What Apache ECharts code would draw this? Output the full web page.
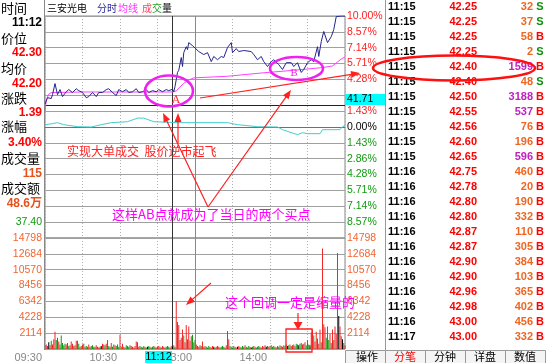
<!DOCTYPE html>
<html><head><meta charset="utf-8">
<script src="https://cdn.jsdelivr.net/npm/echarts/dist/echarts.min.js"></script>
<style>html,body{margin:0;padding:0;background:#fff}#c{width:549px;height:363px}</style>
</head><body><div id="c"></div>
<script>
const PREV = 40.91;
const CROSS_T = 102, CROSS_P = 41.71;

const priceT = [0,2,5,6,8,10,12,14,17,19,22,25,27,30,33,35,38,41,43,46,49,51,54,57,59,62,65,67,70,73,75,78,81,83,86,89,91,94,97,99,102,103,104,105,106,107,109,110,111,113,114,115,118,119,123,127,130,133,135,138,141,143,146,149,150,153,155,159,165,167,170,173,175,178,181,183,187,190,193,197,199,202,205,207,210,213,215,218,219,221,223,226,229,231,233,237,240];
const priceV = [41.75,41.99,41.96,42.10,42.51,42.10,42.29,42.03,42.21,42.29,42.18,42.32,42.25,42.18,41.99,42.03,42.18,42.03,42.18,42.18,42.29,42.32,42.18,42.07,42.29,42.21,42.29,42.18,42.21,42.32,42.18,42.21,42.29,42.18,42.25,42.21,42.29,42.21,42.29,42.25,42.30,42.21,42.40,42.66,42.92,43.00,43.47,43.14,43.65,43.87,43.76,44.02,43.91,43.87,43.69,43.58,43.65,43.32,43.51,43.39,43.51,43.47,43.84,44.02,43.65,43.80,43.69,43.73,43.69,43.58,43.39,43.51,43.32,43.14,43.32,43.39,43.21,43.03,43.28,43.28,43.14,43.28,42.92,43.03,43.28,43.39,43.32,43.87,43.51,44.06,44.43,44.02,44.24,44.50,44.98,45.00,45.00];

const avgT = [0,1,3,5,30,60,90,102,105,108,111,115,119,146,173,199,222,230,236,240];
const avgV = [41.50,41.90,42.12,42.18,42.20,42.20,42.20,42.20,42.24,42.38,42.52,42.64,42.72,42.78,42.90,43.00,43.10,43.16,43.38,43.50];

const cyanT = [0,6,10,15,26,37,45,53,66,74,79,87,106,120,146,154,170,186,190,202,206,210,220,222,236,238,240];
const cyanV = [0.21,0.30,0.39,0.21,0.03,0.00,0.21,0.39,0.48,0.80,0.80,0.48,0.39,0.39,0.39,0.21,0.03,0.00,-0.24,-0.69,-0.51,-0.60,-0.60,-0.24,-0.24,0.03,0.12];

const vols = [500,600,400,900,500,1100,600,1300,2300,1200,
1500,1000,600,1800,800,500,700,600,800,400,
500,1000,700,400,500,1100,1100,700,300,400,
600,700,300,400,300,600,300,400,500,300,
300,500,300,200,300,400,700,600,500,700,
1200,400,300,800,300,600,500,400,600,300,
1900,300,700,300,200,500,400,300,500,400,
300,200,400,1000,900,300,400,300,200,400,
300,200,300,400,300,200,300,400,300,200,
300,400,300,200,400,300,200,300,400,300,
200,400,300,500,300,6369,3600,3200,1200,1500,
2600,1800,900,3200,1300,3000,1100,1700,1900,900,
1200,600,400,300,500,400,1000,300,400,300,
200,400,300,200,400,300,200,300,400,300,
200,300,400,300,200,500,2400,1300,400,300,
200,400,300,200,300,400,300,200,400,300,
500,300,200,400,300,200,300,400,300,200,
300,400,300,200,400,300,500,300,400,300,
400,500,300,400,300,200,400,300,500,400,
300,500,400,600,400,500,600,400,500,600,
400,700,600,500,700,800,600,700,900,500,
1200,600,500,2200,2600,1800,1000,2300,1400,700,
2600,900,13400,3300,2900,1500,3000,1200,2000,800,
2600,1200,3000,2000,12800,4400,3000,1700,1300,800,
500];
const volDir = "rrgkrgrrrg"+"grgggrgrrg"+"rrrgrrrgrg"+"rgrgrrgrgr"+"grgrgkrrgr"+"rgrrgrrgrg"+"rgrgrgrgrg"+"rgrrgrgrgg"+"rgkgrggrgr"+"grgrrgrgrg"+"rrkrgrrrrr"+"rgrrgrrrgr"+"grgrgrrgrg"+"rgrgrkgrgr"+"grgrgrrrgr"+"grgrkrgrgr"+"rgrgrkgrrg"+"ggrgrgrkgr"+"grgrgrrgrg"+"rrgrkgrgrg"+"rggkggrgrg"+"rgkrrgrrgr"+"rgrrrgrgrg"+"rgrrrkrrkg"+"r";

const pctLabels = ['10.00%','8.57%','7.14%','5.71%','4.28%','','1.43%','0.00%','1.43%','2.86%','4.28%','5.71%','7.14%','8.57%',''];
const leftPriceLabels = {'-6':'37.40'};
const volLabels = ['','2114','4228','6342','8456','10570','12684','14798'];
const timeLabels = {0:'09:30',60:'10:30',120:'13:00',180:'14:00'};

const tTime  = ['11:15','11:15','11:15','11:15','11:15','11:15','11:15','11:15','11:15','11:15','11:15','11:16','11:16','11:16','11:16','11:16','11:16','11:16','11:16','11:16','11:16','11:16','11:17'];
const tPrice = ['42.25','42.25','42.25','42.25','42.40','42.40','42.50','42.55','42.56','42.60','42.65','42.75','42.78','42.80','42.80','42.87','42.87','42.90','42.90','42.96','42.98','43.00','43.00'];
const tVol   = [32,37,58,2,1599,48,3188,537,76,196,596,460,20,190,332,110,305,384,103,365,402,456,332];
const tSide  = ['S','S','B','S','B','S','B','B','B','B','B','B','B','B','B','B','B','B','B','B','B','B','B'];

const infoLabels = [['时间','11:12','#000'],['价位','42.30','#ff0000'],['均价','42.20','#ff0000'],['涨跌','1.39','#ff0000'],['涨幅','3.40%','#ff0000'],['成交量','115','#e8501c'],['成交额','48.6万','#e8501c']];

const toStep = p => (p / PREV - 1) * 70;
const FONT = "'Liberation Sans', 'Noto Sans CJK SC', sans-serif";
const CJK = "'Noto Sans CJK SC', sans-serif";

const G = [];
function txt(x, y, s, color, font, align, z) {
  G.push({type:'text', x:x, y:y, z: z||100, style:{text:s, fill:color, font:font, align:align||'left', textAlign:align||'left', verticalAlign:'middle', textVerticalAlign:'middle'}});
}
function line(x1,y1,x2,y2,color,w,z){ G.push({type:'line', z:z||100, shape:{x1,y1,x2,y2}, style:{stroke:color, lineWidth:w||1}}); }
function arrow(x1,y1,x2,y2,color,L,W){
  L=L||9; W=W||3.5;
  const dx=x2-x1, dy=y2-y1, len=Math.hypot(dx,dy), ux=dx/len, uy=dy/len;
  const bx=x2-ux*L, by=y2-uy*L, nx=-uy, ny=ux;
  line(x1,y1,bx+ux*2,by+uy*2,color,1.2,110);
  G.push({type:'polygon', z:110, shape:{points:[[x2,y2],[bx+nx*W,by+ny*W],[bx-nx*W,by-ny*W]]}, style:{fill:color}});
}
function ell(cx,cy,rx,ry,color){ G.push({type:'ellipse', z:110, shape:{cx,cy,rx,ry}, style:{fill:'none', stroke:color, lineWidth:2.6}}); }

// left info panel
const infoY = [8,23,38,53,68,84,98,113,126,143,158,174,188,204];
infoLabels.forEach((r,i)=>{
  txt(1, infoY[2*i], r[0], '#000', '13px '+CJK, 'left');
  txt(42, infoY[2*i+1], r[1], r[2], 'bold 12px '+FONT, 'right');
});
G.push({type:'line', z:90, shape:{x1:44.5,y1:0,x2:44.5,y2:350}, style:{stroke:'#888',lineWidth:1}});

// title row
txt(47, 8, '三安光电', '#000', '10px '+CJK);
txt(97, 8, '分时', '#2a2a9a', '10px '+CJK);
txt(118, 8, '均线', '#ff30ff', '10px '+CJK);
txt(142, 8, '成', '#ff4060', '10px '+CJK);
txt(152, 8, '交', '#20a020', '10px '+CJK);
txt(162, 8, '量', '#000', '10px '+CJK);

// table
G.push({type:'rect', z:50, shape:{x:385,y:0,width:164,height:363}, style:{fill:'#fff'}});
line(385.5,0,385.5,350,'#999',1,60);
tTime.forEach((t,i)=>{
  const y = 7 + 15*i;
  txt(388, y, t, '#000', 'bold 11px '+FONT, 'left', 70);
  txt(477, y, tPrice[i], '#ff0000', 'bold 11px '+FONT, 'right', 70);
  txt(533, y, String(tVol[i]), tVol[i] >= 500 ? '#c020c0' : '#ee6622', 'bold 11px '+FONT, 'right', 70);
  txt(540, y, tSide[i], tSide[i]==='B' ? '#ff0000' : '#109010', 'bold 11px '+FONT, 'center', 70);
});
// tabs
const tabs = [['操作',345,385,'#000'],['分笔',385,425,'#ff0000'],['分钟',425,465,'#000'],['详盘',465,505,'#000'],['数值',505,545,'#000']];
tabs.forEach(t=>{
  G.push({type:'rect', z:70, shape:{x:t[1]+0.5,y:350.5,width:t[2]-t[1],height:13}, style:{fill:'#f4f4f4', stroke:'#999', lineWidth:1}});
  txt((t[1]+t[2])/2+ (t[0]==='操作'?2:0), 357, t[0], t[3], '11px '+CJK, 'center', 75);
});
// cursor boxes
G.push({type:'rect', z:80, shape:{x:345,y:94,width:40,height:11}, style:{fill:'#00ffff'}});
txt(347, 99.5, CROSS_P.toFixed(2), '#000', '10.5px '+FONT, 'left', 85);
G.push({type:'rect', z:80, shape:{x:145,y:351,width:27,height:12}, style:{fill:'#00ffff'}});
txt(158.5, 357, '11:12', '#000', '11px '+FONT, 'center', 85);

// annotations
ell(169, 91, 24, 15.5, '#ee22ee');
txt(176, 100, 'A', '#ff3030', '11px DejaVu Serif', 'center', 110);
ell(296.5, 68.5, 26.5, 11.5, '#ee22ee');
txt(294, 73, 'B', '#ee22ee', '10px DejaVu Serif', 'center', 110);
arrow(200, 98, 360, 73, '#ff2020', 9, 3.5);
arrow(208, 207, 163, 113, '#ff2020', 9, 3.5);
arrow(178, 143, 178, 113, '#ff2020', 9, 3.5);
arrow(208, 207, 291, 90, '#ff2020', 9, 3.5);
txt(67, 151, '实现大单成交  股价逆市起飞', '#ff2020', '12px '+CJK, 'left', 110);
txt(112, 214, '这样AB点就成为了当日的两个买点', '#ff00ff', '13px '+CJK, 'left', 110);
txt(225, 302, '这个回调一定是缩量的', '#ff00ff', '13px '+CJK, 'left', 110);
arrow(211, 283, 186, 305, '#ff2020', 9, 3.5);
arrow(298, 313, 298, 330, '#ff2020', 8, 4.5);
G.push({type:'rect', z:110, shape:{x:286,y:329,width:26,height:23}, style:{fill:'none', stroke:'#ff2020', lineWidth:1.3}});
ell(454, 68, 81, 12.5, '#ff1010');

const dirColor = {r:'#f02828', g:'#109a10', k:'#000'};
const xSplit = {show:true, lineStyle:{color:'#b0b0b0', type:[1,2], width:1}};

const option = {
  animation:false,
  backgroundColor:'#fff',
  grid:[
    {left:45, top:16, width:300, height:222, show:true, borderColor:'#888', borderWidth:1},
    {left:45, top:238, width:300, height:112, show:true, borderColor:'#888', borderWidth:1}
  ],
  xAxis:[
    {gridIndex:0, type:'value', min:0, max:240, interval:30, axisLabel:{show:false}, axisLine:{show:false}, axisTick:{show:false}, splitLine:xSplit},
    {gridIndex:1, type:'value', min:0, max:240, interval:30, axisLine:{show:false}, axisTick:{show:false}, splitLine:xSplit,
      axisLabel:{show:true, margin:3, color:'#888', fontSize:11, fontFamily:FONT, align:'right', padding:[0,3,0,0],
        formatter: v => timeLabels[v] || ''}}
  ],
  yAxis:[
    {gridIndex:0, type:'value', position:'right', min:-7, max:7, interval:1,
      axisLine:{show:false}, axisTick:{show:false}, splitLine:{show:true, lineStyle:{color:'#a0a0a0', width:1}},
      axisLabel:{show:true, margin:2, fontSize:10.5, fontFamily:FONT, showMinLabel:true, showMaxLabel:true,
        formatter: v => { const s = pctLabels[7 - Math.round(v)]; if(!s) return ''; return v>0 ? '{r|'+s+'}' : (v<0 ? '{g|'+s+'}' : '{k|'+s+'}'); },
        rich:{r:{color:'#ff2020', fontSize:10.5, fontFamily:FONT}, g:{color:'#109a10', fontSize:10.5, fontFamily:FONT}, k:{color:'#000', fontSize:10.5, fontFamily:FONT}}}},
    {gridIndex:0, type:'value', position:'left', min:-7, max:7, interval:1,
      axisLine:{show:false}, axisTick:{show:false}, splitLine:{show:false},
      axisLabel:{show:true, margin:3, fontSize:10.5, fontFamily:FONT, color:'#109a10', formatter: v => leftPriceLabels[String(Math.round(v))] || ''}},
    {gridIndex:1, type:'value', position:'right', min:0, max:14798, interval:2114,
      axisLine:{show:false}, axisTick:{show:false}, splitLine:{show:true, lineStyle:{color:'#a0a0a0', width:1}},
      axisLabel:{show:true, margin:2, fontSize:10.5, fontFamily:FONT, color:'#ee6633', showMaxLabel:true, formatter: v => volLabels[Math.round(v/2114)] || ''}},
    {gridIndex:1, type:'value', position:'left', min:0, max:14798, interval:2114,
      axisLine:{show:false}, axisTick:{show:false}, splitLine:{show:false},
      axisLabel:{show:true, margin:3, fontSize:10.5, fontFamily:FONT, color:'#ee6633', showMaxLabel:true, formatter: v => volLabels[Math.round(v/2114)] || ''}}
  ],
  series:[
    {type:'line', xAxisIndex:0, yAxisIndex:0, z:5, showSymbol:false, symbol:'none',
      data: cyanT.map((t,i)=>[t, cyanV[i]*0.7]), lineStyle:{color:'#44cccc', width:1}},
    {type:'line', xAxisIndex:0, yAxisIndex:0, z:6, showSymbol:false, symbol:'none',
      data: avgT.map((t,i)=>[t, toStep(avgV[i])]), lineStyle:{color:'#ff40ff', width:1}},
    {type:'line', xAxisIndex:0, yAxisIndex:0, z:7, showSymbol:false, symbol:'none',
      data: priceT.map((t,i)=>[t, toStep(priceV[i])]), lineStyle:{color:'#24248e', width:1},
      markLine:{silent:true, symbol:'none', label:{show:false}, animation:false,
        data:[
          {xAxis:120, lineStyle:{color:'#888', type:'solid', width:1}},
          {yAxis:0, lineStyle:{color:'#707070', type:'solid', width:1}},
          {xAxis:CROSS_T, lineStyle:{color:'#333', type:'solid', width:1}},
          {yAxis:toStep(CROSS_P), lineStyle:{color:'#222', type:'solid', width:1}}
        ]}},
    {type:'bar', xAxisIndex:1, yAxisIndex:2, barWidth:1, z:5,
      data: vols.map((v,i)=>({value:[i, v], itemStyle:{color:dirColor[volDir[i]]}})),
      markLine:{silent:true, symbol:'none', label:{show:false}, animation:false,
        data:[
          {xAxis:120, lineStyle:{color:'#888', type:'solid', width:1}},
          {xAxis:CROSS_T, lineStyle:{color:'#333', type:'solid', width:1}}
        ]}}
  ],
  graphic:{elements:G}
};
const chart = echarts.init(document.getElementById('c'), null, {renderer:'canvas'});
chart.setOption(option);
</script></body></html>
